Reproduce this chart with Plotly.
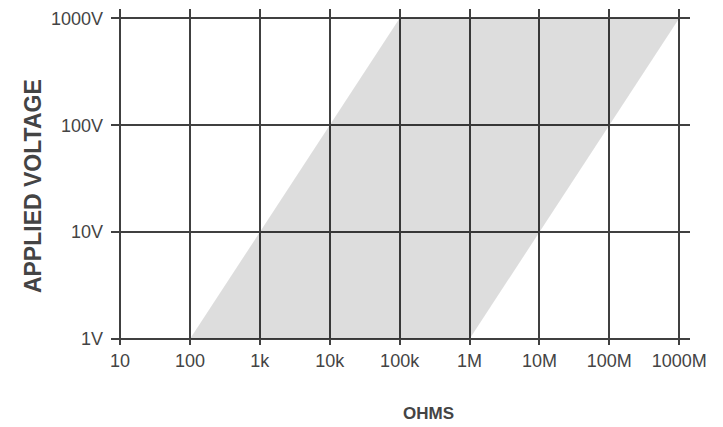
import plotly.graph_objects as go

# Axis ticks
ohm_vals = [1e1, 1e2, 1e3, 1e4, 1e5, 1e6, 1e7, 1e8, 1e9]
ohm_labels = ["10", "100", "1k", "10k", "100k", "1M", "10M", "100M", "1000M"]
volt_vals = [1, 10, 100, 1000]
volt_labels = ["1V", "10V", "100V", "1000V"]

# Shaded operating region (parallelogram corners)
region_ohms = [1e2, 1e6, 1e9, 1e5, 1e2]
region_volts = [1, 1, 1000, 1000, 1]

fig = go.Figure()
fig.add_trace(go.Scatter(
    x=region_ohms, y=region_volts, mode="lines", fill="toself",
    fillcolor="rgba(0,0,0,0.135)", line=dict(width=0), hoverinfo="skip",
    showlegend=False,
))

font_fam = "Liberation Sans, Arial, sans-serif"
# page body adds an 8px offset; size compensates so the plot sits where the reference does
fig.update_layout(
    width=715, height=419,
    margin=dict(l=103, r=33, t=1, b=82),
    paper_bgcolor="white", plot_bgcolor="white",
    font=dict(family=font_fam, color="#444444", size=18),
    showlegend=False,
    annotations=[
        dict(text="<b>OHMS</b>", xref="paper", yref="paper", x=0.5475, y=-0.2024,
             xanchor="center", yanchor="middle", showarrow=False,
             font=dict(size=17, color="#444444")),
        dict(text="<b>APPLIED VOLTAGE</b>", xref="paper", yref="paper", x=-0.1347, y=0.473,
             xanchor="center", yanchor="middle", showarrow=False, textangle=-90,
             font=dict(size=23, color="#444444")),
    ],
)
fig.update_xaxes(
    type="log", range=[0.871, 9.154], automargin=False,
    tickvals=ohm_vals, ticktext=ohm_labels,
    showgrid=True, gridcolor="#404040", gridwidth=2,
    zeroline=False, showline=False, ticks="", ticklabelstandoff=3,
)
fig.update_yaxes(
    type="log", range=[-0.056, 3.087], automargin=False,
    tickvals=volt_vals, ticktext=volt_labels,
    showgrid=True, gridcolor="#404040", gridwidth=2,
    zeroline=False, showline=False, ticks="", ticklabelstandoff=7,
)

fig.write_html("out.html")
